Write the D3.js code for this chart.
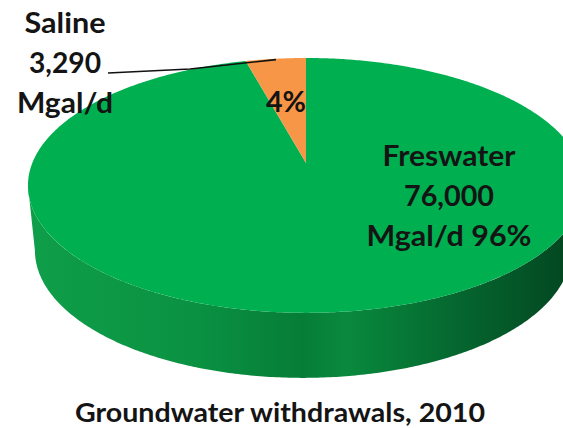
<!DOCTYPE html>
<html>
<head>
<meta charset="utf-8">
<script src="https://cdn.jsdelivr.net/npm/d3@7"></script>
<style>
  html, body { margin: 0; padding: 0; background: #ffffff; }
  svg { display: block; }
  text { font-family: Lato, "Open Sans", sans-serif; font-weight: 700; fill: #141414; }
</style>
</head>
<body>
<svg id="chart" width="563" height="428"></svg>
<script>
// Groundwater withdrawals by source, 2010 (million gallons per day)
const categories = ["Freswater", "Saline"];
const values = [76000, 3290];
const unit = "Mgal/d";
const title = "Groundwater withdrawals, 2010";
const colors = ["#00b050", "#f79646"];

const svg = d3.select("#chart");

// tilted disc: top face and the (farther, slightly smaller) bottom face
const k = 0.176;                                   // perspective factor
const topFace = { cx: 306, cy: 163, rx: 273.7, ry: 123.5 };
const botFace = { cx: 303, cy: 228, rx: 263.9, ry: 123.5 };

// project a point on a face (angle clockwise from 12 o'clock, radius 0..1)
function proj(face, theta, r = 1) {
  const u = r * Math.sin(theta), v = -r * Math.cos(theta);
  const w = 1 - k * v;
  return [face.cx + face.rx * u / w, face.cy + face.ry * v / w];
}

const pie = d3.pie().sort(null).startAngle(0).endAngle(2 * Math.PI);
const arcs = pie(values);
const total = d3.sum(values);
const pct = d3.format(".0%");
const num = d3.format(",");

const line = d3.line().curve(d3.curveLinear);

function sampleArc(face, a0, a1, r = 1) {
  const n = Math.max(8, Math.ceil(Math.abs(a1 - a0) / 0.01));
  return d3.range(n + 1).map(i => proj(face, a0 + (a1 - a0) * i / n, r));
}

// shading of the outer wall
const defs = svg.append("defs");
const grad = defs.append("linearGradient")
  .attr("id", "side").attr("gradientUnits", "userSpaceOnUse")
  .attr("x1", 30).attr("y1", 0).attr("x2", 575).attr("y2", 0);
[[0, "#0f9e49"], [0.3, "#0a9242"], [0.5, "#067d37"], [0.58, "#0a893e"],
 [0.65, "#077e38"], [0.8, "#05642e"], [1, "#034520"]]
  .forEach(([o, c]) => grad.append("stop").attr("offset", o).attr("stop-color", c));

// front wall: visible between the right and left silhouette extremes
const tA = Math.acos(-k);
const tB = 2 * Math.PI - Math.acos(-k);
const wall = sampleArc(topFace, tA, tB).concat(sampleArc(botFace, tB, tA));
svg.append("path")
  .attr("d", line(wall) + "Z")
  .attr("fill", "url(#side)");

// top face slices
svg.selectAll("path.slice")
  .data(arcs)
  .join("path")
  .attr("class", "slice")
  .attr("d", d => line([proj(topFace, 0, 0)].concat(sampleArc(topFace, d.startAngle, d.endAngle))) + "Z")
  .attr("fill", (d, i) => colors[i]);

const saline = arcs[1];

// freshwater label inside its slice
const fLines = [categories[0], num(values[0]), unit + " " + pct(values[0] / total)];
const fLens = [133, 90, 165];
svg.append("g").selectAll("text")
  .data(fLines)
  .join("text")
  .attr("x", 449)
  .attr("y", (d, i) => 166 + i * 40)
  .attr("text-anchor", "middle")
  .attr("font-size", 28)
  .attr("textLength", (d, i) => fLens[i])
  .attr("lengthAdjust", "spacingAndGlyphs")
  .text(d => d);

// saline percentage inside its slice
svg.append("text")
  .attr("x", 286).attr("y", 112)
  .attr("text-anchor", "middle")
  .attr("font-size", 28)
  .attr("textLength", 40)
  .attr("lengthAdjust", "spacingAndGlyphs")
  .text(pct(values[1] / total));

// saline name and value outside, with a leader line
const sLines = [categories[1], num(values[1]), unit];
const sLens = [81, 72, 96];
svg.append("g").selectAll("text")
  .data(sLines)
  .join("text")
  .attr("x", 65)
  .attr("y", (d, i) => 33 + i * 40)
  .attr("text-anchor", "middle")
  .attr("font-size", 28)
  .attr("textLength", (d, i) => sLens[i])
  .attr("lengthAdjust", "spacingAndGlyphs")
  .text(d => d);

const tip = proj(topFace, (saline.startAngle + saline.endAngle) / 2, 0.99);
svg.append("path")
  .attr("d", line([[108, 73], [190, 69], tip]))
  .attr("fill", "none")
  .attr("stroke", "#111")
  .attr("stroke-width", 1.6);

// title
svg.append("text")
  .attr("x", 280).attr("y", 422)
  .attr("text-anchor", "middle")
  .attr("font-size", 27)
  .attr("textLength", 410)
  .attr("lengthAdjust", "spacingAndGlyphs")
  .text(title);
</script>
</body>
</html>
